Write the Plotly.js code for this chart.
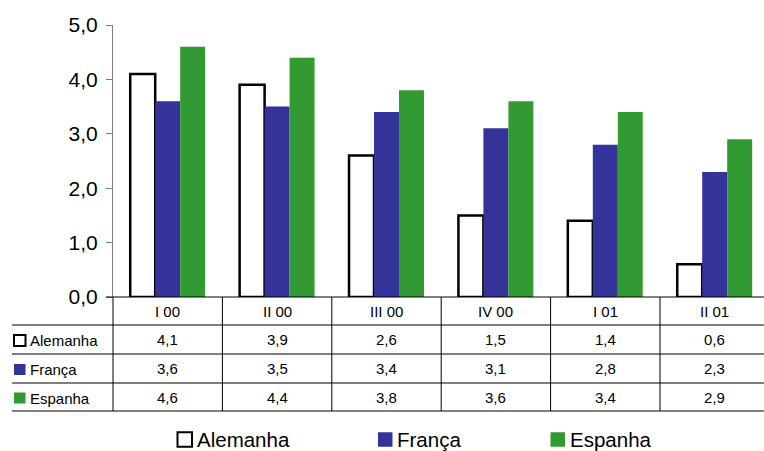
<!DOCTYPE html>
<html>
<head>
<meta charset="utf-8">
<script src="https://cdn.plot.ly/plotly-3.0.1.min.js"></script>
<style>html,body{margin:0;padding:0;background:#fff;}#chart{width:764px;height:451px;}</style>
</head>
<body>
<div id="chart"></div>
<script>
// ---- data ----
const categories = ['I 00', 'II 00', 'III 00', 'IV 00', 'I 01', 'II 01'];
const alemanha = [4.1, 3.9, 2.6, 1.5, 1.4, 0.6];
const franca = [3.6, 3.5, 3.4, 3.1, 2.8, 2.3];
const espanha = [4.6, 4.4, 3.8, 3.6, 3.4, 2.9];
const seriesNames = ['Alemanha', 'França', 'Espanha'];
const yTickVals = [0, 1, 2, 3, 4, 5];
const yTickText = ['0,0', '1,0', '2,0', '3,0', '4,0', '5,0'];

// ---- layout constants ----
const W = 764, H = 451;
const M = {l: 113, r: 0, t: 25, b: 154};
const plotW = W - M.l - M.r, plotH = H - M.t - M.b;
const catW = 109.4;                     // px per category
const xEnd = -0.5 + plotW / catW;       // visible part of last category
const FONT = 'Liberation Sans, Arial, Helvetica, sans-serif';
const colors = ['#ffffff', '#333399', '#339933'];
const seriesData = [alemanha, franca, espanha];

const py = p => (H - M.b - p) / plotH;          // pixel y -> paper y
const px = p => (p - M.l) / plotW;              // pixel x -> paper x
const cx = v => (v + 0.5) / (xEnd + 0.5);       // category coord -> paper x

const traces = seriesNames.map((n, i) => ({
  type: 'bar', name: n, x: categories, y: seriesData[i],
  marker: {color: colors[i], line: {color: '#000', width: i === 0 ? 2.5 : 0}},
  hoverinfo: 'skip'
}));

const shapes = [];
const annotations = [];
const rowY = [297, 325, 354, 383, 411]; // table row boundaries (px)

// horizontal table lines
for (let r = 1; r < rowY.length; r++) {
  shapes.push({type: 'line', xref: 'paper', yref: 'paper', x0: px(12), x1: 1.02, y0: py(rowY[r]), y1: py(rowY[r]), line: {color: '#000', width: 1}});
}
// zero line extended to the left
shapes.push({type: 'line', xref: 'paper', yref: 'paper', x0: px(106), x1: 1.02, y0: 0, y1: 0, line: {color: '#000', width: 1}});
// vertical table lines
for (let k = 0; k <= categories.length; k++) {
  const xp = cx(k - 0.5);
  if (xp > 1.001) continue;
  shapes.push({type: 'line', xref: 'paper', yref: 'paper', x0: xp, x1: xp, y0: 0, y1: py(rowY[4]), line: {color: '#000', width: 1}});
}
// header labels
categories.forEach((c, k) => {
  annotations.push({xref: 'paper', yref: 'paper', x: cx(k), y: py((rowY[0] + rowY[1]) / 2), text: c, showarrow: false, xanchor: 'center', yanchor: 'middle', font: {family: FONT, size: 15, color: '#000'}});
});
// values
seriesData.forEach((arr, s) => {
  const yc = py((rowY[s + 1] + rowY[s + 2]) / 2);
  arr.forEach((v, k) => {
    annotations.push({xref: 'paper', yref: 'paper', x: cx(k), y: yc, text: v.toFixed(1).replace('.', ','), showarrow: false, xanchor: 'center', yanchor: 'middle', font: {family: FONT, size: 15, color: '#000'}});
  });
  // row label with key
  const ycp = (rowY[s + 1] + rowY[s + 2]) / 2 + 1;
  shapes.push({type: 'rect', xref: 'paper', yref: 'paper', x0: px(14), x1: px(25.5), y0: py(ycp - 5.5), y1: py(ycp + 5.5), fillcolor: colors[s], line: {color: s === 0 ? '#000' : colors[s], width: s === 0 ? 2 : 0}});
  annotations.push({xref: 'paper', yref: 'paper', x: px(28), y: py(ycp), text: seriesNames[s], showarrow: false, xanchor: 'left', yanchor: 'middle', font: {family: FONT, size: 15, color: '#000'}});
});
// bottom legend
const legX = [177.5, 378, 550.5];
const legY = 439.5;
legX.forEach((lx, s) => {
  shapes.push({type: 'rect', xref: 'paper', yref: 'paper', x0: px(lx), x1: px(lx + 14.5), y0: py(legY - 7.25), y1: py(legY + 7.25), fillcolor: colors[s], line: {color: s === 0 ? '#000' : colors[s], width: s === 0 ? 2 : 0}});
  annotations.push({xref: 'paper', yref: 'paper', x: px(lx + 17), y: py(legY), text: seriesNames[s], showarrow: false, xanchor: 'left', yanchor: 'middle', font: {family: FONT, size: 20.5, color: '#000'}});
});

const layout = {
  width: W, height: H,
  margin: M,
  paper_bgcolor: '#fff', plot_bgcolor: '#fff',
  separators: ', ',
  showlegend: false,
  barmode: 'group', bargap: 0.315, bargroupgap: 0,
  font: {family: FONT, color: '#000'},
  xaxis: {type: 'category', range: [-0.5, xEnd], showticklabels: false, ticks: '', showgrid: false, zeroline: false, showline: false, fixedrange: true},
  yaxis: {range: [0, 5], tickvals: yTickVals, ticktext: yTickText, showgrid: false, zeroline: false, showline: true, linecolor: '#808080', linewidth: 1, ticks: 'outside', ticklen: 6, tickcolor: '#808080', ticklabelstandoff: 4, tickfont: {family: FONT, size: 21, color: '#000'}, fixedrange: true},
  shapes: shapes,
  annotations: annotations
};

Plotly.newPlot('chart', traces, layout, {displayModeBar: false, staticPlot: true});
</script>
</body>
</html>
